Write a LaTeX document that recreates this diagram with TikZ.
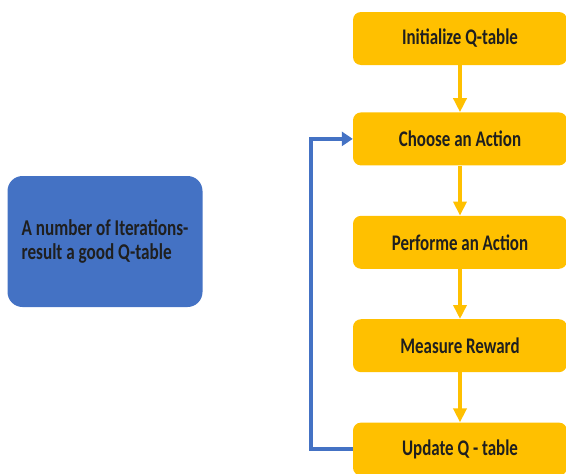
\documentclass[tikz,border=0pt]{standalone}
\usepackage{fontspec}
\setmainfont{Carlito}
\newfontfamily\boxfont[FakeStretch=0.76]{Carlito}
\usetikzlibrary{positioning, arrows.meta}
\definecolor{stepfill}{HTML}{FFC000}
\definecolor{loopblue}{HTML}{4472C4}
\definecolor{textdark}{HTML}{1F1F1F}

\begin{document}
\begin{tikzpicture}[
    x=1pt, y=-1pt,
    node distance=50pt,
    stage/.style={rectangle, fill=stepfill, text=textdark,
                  rounded corners=8pt, minimum width=214pt, minimum height=53pt,
                  align=center, font=\boxfont\fontsize{22.3}{24}\selectfont\bfseries},
    note/.style={rectangle, fill=loopblue, text=textdark,
                 rounded corners=15pt, minimum width=195pt, minimum height=131pt,
                 align=left, font=\boxfont\fontsize{22.6}{24}\selectfont\bfseries},
    flow/.style={-{Triangle[width=13pt, length=14pt]}, line width=3.5pt, stepfill},
    back/.style={-{Triangle[width=14pt, length=11pt]}, line width=4pt, loopblue}
  ]
    \useasboundingbox (0,0) rectangle (566,474);
    \clip (0,0) rectangle (566,474);

    \node[stage] (init) at (460,38.5) {Initialize Q-table};
    \node[stage, below=47pt of init] (choose) {Choose an Action};
    \node[stage, below=of choose] (perform) {Performe an Action};
    \node[stage, below=of perform] (reward) {Measure Reward};
    \node[stage, below=of reward] (update) {Update Q - table};

    \node[note] (result) at (105,241.5) {A number of Iterations-\\result a good Q-table};

    \draw[flow] (init) -- (choose);
    \draw[flow] (choose) -- (perform);
    \draw[flow] (perform) -- (reward);
    \draw[flow] (reward) -- (update);
    \draw[back] (update.west) -- ++(-42pt,0) |- (choose.west);
  \end{tikzpicture}
\end{document}
